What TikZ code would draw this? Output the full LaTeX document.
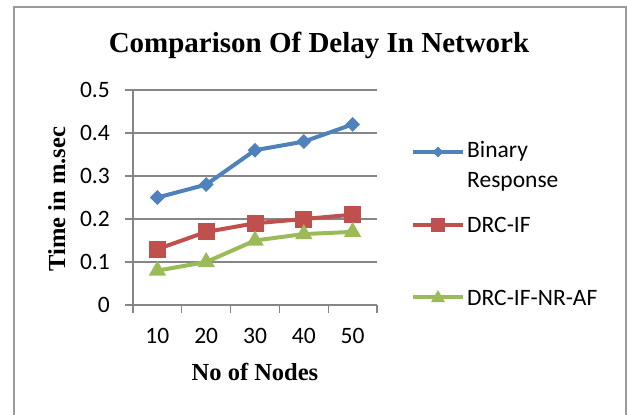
\documentclass[tikz,border=0pt]{standalone}
\usepackage{fontspec}
\setmainfont{Carlito}
\newfontfamily\serifbf{Liberation Serif}
\usepackage{tikz}
\usetikzlibrary{shapes.geometric}
\definecolor{gridgray}{HTML}{868686}
\definecolor{framegray}{HTML}{9A9A9A}
\definecolor{brblue}{HTML}{4F81BD}
\definecolor{drcred}{HTML}{C0504D}
\definecolor{nrgreen}{HTML}{9BBB59}

\begin{document}
\begin{tikzpicture}[x=1pt,y=-1pt,
  every node/.style={inner sep=0pt},
  grid line/.style={gridgray,line width=1.3pt},
  series/.style={line width=4pt,line join=round},
  dmark/.style={diamond,fill=brblue,minimum width=15pt,minimum height=15pt},
  smark/.style={rectangle,fill=drcred,minimum size=17pt},
  tmark/.style={regular polygon,regular polygon sides=3,fill=nrgreen,minimum size=20pt},
  ticklab/.style={font=\fontsize{23.5}{30}\selectfont},
  axtitle/.style={font=\serifbf\bfseries\fontsize{24.5}{29}\selectfont}]
\useasboundingbox (0,0) rectangle (627,415);
\draw [framegray,line width=1.5pt] (14,415) -- (14,7) -- (626,7) -- (626,415);
\node [font=\serifbf\bfseries\fontsize{29}{34}\selectfont,anchor=base] (title) at (319,52) {Comparison Of Delay In Network};
\draw [grid line] (125,90) -- (377,90);
\draw [grid line] (125,133) -- (377,133);
\draw [grid line] (125,176) -- (377,176);
\draw [grid line] (125,219) -- (377,219);
\draw [grid line] (125,262) -- (377,262);
\draw [grid line] (133,90) -- (133,305);
\draw [grid line] (125,305) -- (377,305);
\draw [grid line] (133,305) -- (133,313);
\draw [grid line] (181.8,305) -- (181.8,313);
\draw [grid line] (230.6,305) -- (230.6,313);
\draw [grid line] (279.4,305) -- (279.4,313);
\draw [grid line] (328.2,305) -- (328.2,313);
\draw [grid line] (377,305) -- (377,313);
\node [ticklab,anchor=base east] (y0) at (110,312) {0};
\node [ticklab,anchor=base east] (y1) at (110,269) {0.1};
\node [ticklab,anchor=base east] (y2) at (110,226) {0.2};
\node [ticklab,anchor=base east] (y3) at (110,183) {0.3};
\node [ticklab,anchor=base east] (y4) at (110,140) {0.4};
\node [ticklab,anchor=base east] (y5) at (110,97) {0.5};
\node [ticklab,anchor=base] (x1) at (157.4,343) {10};
\node [ticklab,anchor=base] (x2) at (206.2,343) {20};
\node [ticklab,anchor=base] (x3) at (255,343) {30};
\node [ticklab,anchor=base] (x4) at (303.8,343) {40};
\node [ticklab,anchor=base] (x5) at (352.6,343) {50};
\node [axtitle,anchor=base] (xtitle) at (255,380) {No of Nodes};
\node [axtitle,anchor=base,rotate=90] (ytitle) at (65,199) {Time in m.sec};
\coordinate (b1) at (157.4,197.5);
\coordinate (b2) at (206.2,184.6);
\coordinate (b3) at (255,150.2);
\coordinate (b4) at (303.8,141.6);
\coordinate (b5) at (352.6,124.4);
\coordinate (r1) at (157.4,249.1);
\coordinate (r2) at (206.2,231.9);
\coordinate (r3) at (255,223.3);
\coordinate (r4) at (303.8,219);
\coordinate (r5) at (352.6,214.7);
\coordinate (g1) at (157.4,270.6);
\coordinate (g2) at (206.2,262);
\coordinate (g3) at (255,240.5);
\coordinate (g4) at (303.8,234.05);
\coordinate (g5) at (352.6,231.9);
\draw [series,brblue] (b1) -- (b2) -- (b3) -- (b4) -- (b5);
\draw [series,drcred] (r1) -- (r2) -- (r3) -- (r4) -- (r5);
\draw [series,nrgreen] (g1) -- (g2) -- (g3) -- (g4) -- (g5);
\node [dmark] at (b1) {};
\node [dmark] at (b2) {};
\node [dmark] at (b3) {};
\node [dmark] at (b4) {};
\node [dmark] at (b5) {};
\node [smark] at (r1) {};
\node [smark] at (r2) {};
\node [smark] at (r3) {};
\node [smark] at (r4) {};
\node [smark] at (r5) {};
\node [tmark] at (g1) {};
\node [tmark] at (g2) {};
\node [tmark] at (g3) {};
\node [tmark] at (g4) {};
\node [tmark] at (g5) {};
\coordinate (lb0) at (413,152);
\coordinate (lb1) at (463,152);
\coordinate (lr0) at (413,225);
\coordinate (lr1) at (463,225);
\coordinate (lg0) at (413,297);
\coordinate (lg1) at (463,297);
\draw [series,brblue] (lb0) -- (lb1);
\draw [series,drcred] (lr0) -- (lr1);
\draw [series,nrgreen] (lg0) -- (lg1);
\node [dmark,minimum width=11pt,minimum height=11pt] at (438,152) {};
\node [smark,minimum size=14pt] at (438,225) {};
\node [tmark,minimum size=16pt] at (438,298) {};
\node [ticklab,anchor=base west,align=left] (lbin) at (467,187) {Binary\\Response};
\node [ticklab,anchor=base west] (ldrc) at (467,232) {DRC-IF};
\node [ticklab,anchor=base west] (lnr) at (467,305) {DRC-IF-NR-AF};
\end{tikzpicture}
\end{document}
